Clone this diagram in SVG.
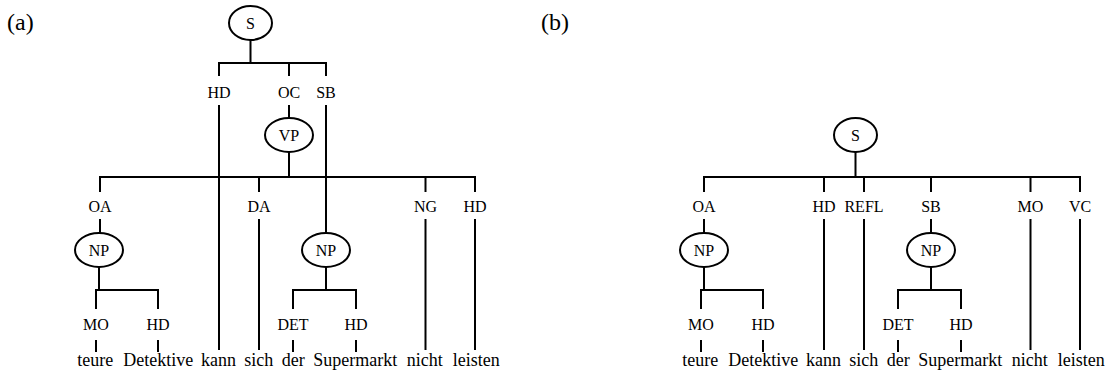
<svg xmlns="http://www.w3.org/2000/svg" width="1108" height="376" viewBox="0 0 1108 376">
<style>
.c path{fill:none;stroke:#000;stroke-width:2}
ellipse{fill:#fff;stroke:#000;stroke-width:2}
.t{font-family:'Liberation Serif','Times New Roman','DejaVu Serif',serif;fill:#000}
.n,.l{font-size:16px;text-anchor:middle}
.w{font-size:18px}
.p{font-size:24px}
</style>
<rect width="1108" height="376" fill="#fff"/>
<g class="t" font-family="Liberation Serif, Times New Roman, serif">
<text class="p" x="7" y="30">(a)</text>
<text class="p" x="541" y="30">(b)</text>
</g>
<g class="c" id="connectors">
<path d="M250.5 40V63M219 76V63H326V76M289 63V76"/>
<path d="M219 105V350M289 105V118M326 105V233M289 152V177"/>
<path d="M100 192V177H475V192M259 177V192M425.5 177V192"/>
<path d="M100 219V233M259 219V350M425.5 219V350M475 219V350"/>
<path d="M99 267V290M96 309V290H158V309M326 267V290M293 309V290H356V309"/>
<path d="M96 340V352M158 340V352M293 340V352M356 340V352"/>
<path d="M855.5 152V177M704 192V177H1080V192M824 177V192M864 177V192M931 177V192M1030.5 177V192"/>
<path d="M704 219V233M824 219V350M864 219V350M931 219V233M1030.5 219V350M1080 219V350"/>
<path d="M704 267V290M701 309V290H763V309M931 267V290M898 309V290H961V309"/>
<path d="M701 340V352M763 340V352M898 340V352M961 340V352"/>
</g>
<g class="t" font-family="Liberation Serif, Times New Roman, serif">
<g id="a-S"><ellipse cx="250.5" cy="23" rx="21.5" ry="17"/><text class="n" x="250.5" y="28.5">S</text></g>
<g id="a-VP"><ellipse cx="289" cy="135" rx="24" ry="17"/><text class="n" x="289" y="140.5">VP</text></g>
<g id="a-NP1"><ellipse cx="99" cy="250" rx="24" ry="17"/><text class="n" x="99" y="255.5">NP</text></g>
<g id="a-NP2"><ellipse cx="326" cy="250" rx="24" ry="17"/><text class="n" x="326" y="255.5">NP</text></g>
<g id="b-S"><ellipse cx="855.5" cy="135" rx="21.5" ry="17"/><text class="n" x="855.5" y="140.5">S</text></g>
<g id="b-NP1"><ellipse cx="704" cy="250" rx="24" ry="17"/><text class="n" x="704" y="255.5">NP</text></g>
<g id="b-NP2"><ellipse cx="931" cy="250" rx="24" ry="17"/><text class="n" x="931" y="255.5">NP</text></g>
<g id="a-labels">
<text class="l" x="219" y="97.5">HD</text><text class="l" x="289" y="97.5">OC</text><text class="l" x="326" y="97.5">SB</text>
<text class="l" x="100" y="211.5">OA</text><text class="l" x="259" y="211.5">DA</text><text class="l" x="425.5" y="211.5">NG</text><text class="l" x="475" y="211.5">HD</text>
<text class="l" x="96" y="329.5">MO</text><text class="l" x="158" y="329.5">HD</text><text class="l" x="293" y="329.5">DET</text><text class="l" x="356" y="329.5">HD</text>
</g>
<g id="b-labels">
<text class="l" x="704" y="211.5">OA</text><text class="l" x="824" y="211.5">HD</text><text class="l" x="864" y="211.5">REFL</text><text class="l" x="931" y="211.5">SB</text><text class="l" x="1030.5" y="211.5">MO</text><text class="l" x="1080" y="211.5">VC</text>
<text class="l" x="701" y="329.5">MO</text><text class="l" x="763" y="329.5">HD</text><text class="l" x="898" y="329.5">DET</text><text class="l" x="961" y="329.5">HD</text>
</g>
<g id="a-words">
<text class="w" x="77.3" y="366">teure</text><text class="w" x="123.3" y="366">Detektive</text><text class="w" x="201" y="366">kann</text><text class="w" x="244.3" y="366">sich</text><text class="w" x="281.7" y="366">der</text><text class="w" x="313.3" y="366">Supermarkt</text><text class="w" x="406.7" y="366">nicht</text><text class="w" x="452.7" y="366">leisten</text>
</g>
<g id="b-words">
<text class="w" x="682.3" y="366">teure</text><text class="w" x="728.3" y="366">Detektive</text><text class="w" x="806" y="366">kann</text><text class="w" x="849.3" y="366">sich</text><text class="w" x="886.7" y="366">der</text><text class="w" x="918.3" y="366">Supermarkt</text><text class="w" x="1011.7" y="366">nicht</text><text class="w" x="1057.7" y="366">leisten</text>
</g>
</g>
</svg>
